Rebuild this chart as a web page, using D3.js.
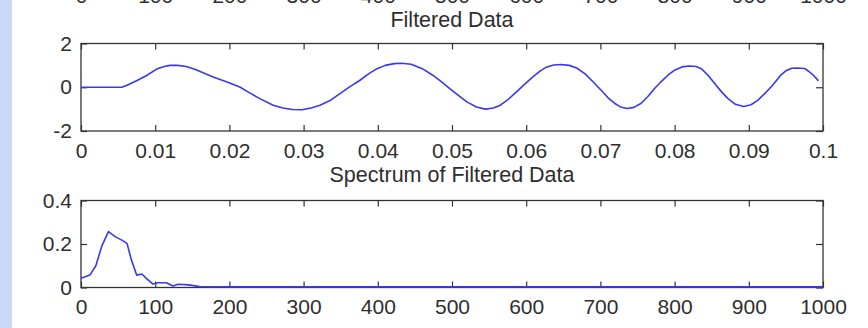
<!DOCTYPE html>
<html>
<head>
<meta charset="utf-8">
<script src="https://cdn.jsdelivr.net/npm/d3@7"></script>
<style>
  html, body { margin: 0; padding: 0; background: #fff; }
  svg { display: block; }
  text { font-family: "Liberation Sans", Arial, sans-serif; fill: #2e2e2e; }
</style>
</head>
<body>
<svg id="chart" width="868" height="328"></svg>
<script>
// ---------- data ----------
const filteredTitle = "Filtered Data";
const spectrumTitle = "Spectrum of Filtered Data";

const filteredT = [0, 0.0055, 0.0062, 0.0075, 0.0089, 0.0102, 0.0112, 0.0120, 0.0130, 0.0142,
  0.0155, 0.0178, 0.0196, 0.0214, 0.0228, 0.0241, 0.0259, 0.0272, 0.0285, 0.0298,
  0.0310, 0.0322, 0.0335, 0.0349, 0.0362, 0.0376, 0.0388, 0.0399, 0.0410, 0.0422,
  0.0432, 0.0445, 0.0460, 0.0474, 0.0486, 0.0497, 0.0509, 0.0520, 0.0533, 0.0545,
  0.0556, 0.0565, 0.0576, 0.0587, 0.0598, 0.0609, 0.0619, 0.0628, 0.0637, 0.0647,
  0.0658, 0.0668, 0.0679, 0.0690, 0.0701, 0.0710, 0.0719, 0.0727, 0.0736, 0.0745,
  0.0755, 0.0764, 0.0773, 0.0782, 0.0791, 0.0800, 0.0810, 0.0820, 0.0829, 0.0836,
  0.0845, 0.0854, 0.0863, 0.0872, 0.0882, 0.0893, 0.0903, 0.0912, 0.0921, 0.0930,
  0.0937, 0.0943, 0.0950, 0.0958, 0.0966, 0.0975, 0.0981, 0.0987, 0.0994];
const filteredV = [0, 0, 0.09, 0.30, 0.55, 0.83, 0.95, 1.0, 1.0, 0.95,
  0.80, 0.47, 0.25, 0.01, -0.27, -0.52, -0.82, -0.95, -1.02, -1.03,
  -0.95, -0.82, -0.62, -0.29, 0.02, 0.32, 0.62, 0.85, 1.0, 1.08,
  1.1, 1.05, 0.85, 0.55, 0.25, -0.06, -0.38, -0.67, -0.90, -1.0,
  -0.95, -0.82, -0.55, -0.21, 0.14, 0.47, 0.75, 0.93, 1.02, 1.04,
  1.0, 0.88, 0.62, 0.25, -0.14, -0.47, -0.73, -0.90, -0.97, -0.92,
  -0.73, -0.42, -0.06, 0.26, 0.55, 0.78, 0.93, 0.97, 0.95, 0.85,
  0.55, 0.17, -0.20, -0.52, -0.78, -0.88, -0.80, -0.60, -0.30, 0.01,
  0.30, 0.55, 0.75, 0.87, 0.88, 0.86, 0.72, 0.55, 0.29];

const spectrumF = [0, 12, 20, 28, 37, 46, 55, 62, 68, 75, 82, 88, 97, 104, 115, 124, 131, 145,
  160, 200, 300, 400, 500, 600, 700, 800, 900, 1000];
const spectrumM = [0.042, 0.057, 0.10, 0.19, 0.257, 0.234, 0.218, 0.203, 0.126, 0.057, 0.062,
  0.042, 0.016, 0.022, 0.022, 0.007, 0.015, 0.012, 0.004, 0.003, 0.003, 0.003, 0.003, 0.003,
  0.003, 0.003, 0.003, 0.003];

const timeTicks = [0, 0.01, 0.02, 0.03, 0.04, 0.05, 0.06, 0.07, 0.08, 0.09, 0.1];
const ampTicks = [-2, 0, 2];
const freqTicks = [0, 100, 200, 300, 400, 500, 600, 700, 800, 900, 1000];
const magTicks = [0, 0.2, 0.4];

// ---------- layout ----------
const svg = d3.select("#chart");
const L = 81, R = 823;
const FS = 21;

svg.append("rect").attr("x", 0).attr("y", 0).attr("width", 12).attr("height", 328)
  .attr("fill", "#c8d9f6");

const fmt = d => String(d);

function panel(opts) {
  const { top, bottom, xDomain, yDomain, xTicks, yTicks, xs, ys, title, titleY } = opts;
  const x = d3.scaleLinear().domain(xDomain).range([L, R]);
  const y = d3.scaleLinear().domain(yDomain).range([bottom, top]);
  const g = svg.append("g");

  const styleAxis = sel => {
    sel.select(".domain").remove();
    sel.selectAll(".tick line").attr("stroke", "#333").attr("stroke-width", 1.2);
    sel.selectAll(".tick text").style("font-size", FS + "px").attr("fill", "#2e2e2e");
  };

  g.append("g").attr("transform", `translate(0,${bottom})`)
    .call(d3.axisBottom(x).tickValues(xTicks).tickFormat(fmt).tickSizeInner(-6).tickSizeOuter(0).tickPadding(12))
    .call(styleAxis);
  g.append("g").attr("transform", `translate(0,${top})`)
    .call(d3.axisTop(x).tickValues(xTicks).tickFormat("").tickSizeInner(-6).tickSizeOuter(0))
    .call(styleAxis);
  g.append("g").attr("transform", `translate(${L},0)`)
    .call(d3.axisLeft(y).tickValues(yTicks).tickFormat(fmt).tickSizeInner(-6).tickSizeOuter(0).tickPadding(9))
    .call(styleAxis);
  g.append("g").attr("transform", `translate(${R},0)`)
    .call(d3.axisRight(y).tickValues(yTicks).tickFormat("").tickSizeInner(-7).tickSizeOuter(0))
    .call(styleAxis);

  g.append("rect").attr("x", L).attr("y", top).attr("width", R - L).attr("height", bottom - top)
    .attr("fill", "none").attr("stroke", "#333").attr("stroke-width", 1.3);

  const line = d3.line().x((d, i) => x(xs[i])).y((d, i) => y(ys[i]));
  g.append("path").datum(xs).attr("d", line)
    .attr("fill", "none").attr("stroke", "#3838f0").attr("stroke-width", 1.6)
    .attr("stroke-linejoin", "round");

  g.append("text").attr("x", (L + R) / 2).attr("y", titleY).attr("text-anchor", "middle")
    .style("font-size", "21.5px").text(title);
  return x;
}

// hidden plot above: only the bottoms of its x tick labels are visible
const xTop = d3.scaleLinear().domain([0, 1000]).range([L, R]);
svg.append("g").attr("transform", "translate(0,-24)")
  .call(d3.axisBottom(xTop).tickValues(freqTicks).tickFormat(fmt).tickSize(0).tickPadding(12))
  .call(sel => {
    sel.select(".domain").remove();
    sel.selectAll(".tick text").style("font-size", FS + "px").attr("fill", "#2e2e2e");
  });

panel({ top: 43.5, bottom: 131, xDomain: [0, 0.1], yDomain: [-2, 2],
  xTicks: timeTicks, yTicks: ampTicks, xs: filteredT, ys: filteredV,
  title: filteredTitle, titleY: 27 });

panel({ top: 200.5, bottom: 287.5, xDomain: [0, 1000], yDomain: [0, 0.4],
  xTicks: freqTicks, yTicks: magTicks, xs: spectrumF, ys: spectrumM,
  title: spectrumTitle, titleY: 182 });
</script>
</body>
</html>
